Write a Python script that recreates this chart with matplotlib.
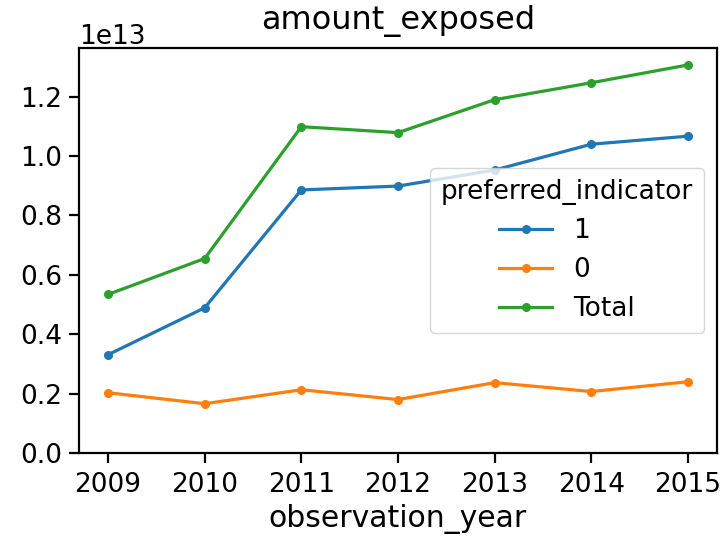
import matplotlib
matplotlib.use("Agg")
import matplotlib.pyplot as plt

years = [2009, 2010, 2011, 2012, 2013, 2014, 2015]
pref_1 = [0.331e13, 0.489e13, 0.886e13, 0.899e13, 0.953e13, 1.040e13, 1.067e13]
pref_0 = [0.203e13, 0.166e13, 0.213e13, 0.180e13, 0.237e13, 0.207e13, 0.240e13]
total = [0.534e13, 0.655e13, 1.099e13, 1.079e13, 1.190e13, 1.247e13, 1.307e13]
series_labels = ["1", "0", "Total"]

fs = 19
plt.rcParams.update({
    "font.size": fs,
    "axes.linewidth": 1.6,
    "xtick.major.width": 1.6,
    "ytick.major.width": 1.6,
    "xtick.major.size": 7,
    "ytick.major.size": 7,
    "xtick.major.pad": 7,
    "ytick.major.pad": 5,
})

fig = plt.figure(figsize=(7.24, 5.36), dpi=100)
ax = fig.add_axes([79/724, 1-453/536, (717-79)/724, (453-48)/536])

colors = ["#1f77b4", "#ff7f0e", "#2ca02c"]
for vals, lab, c in zip([pref_1, pref_0, total], series_labels, colors):
    ax.plot(years, vals, marker="o", markersize=5.5, linewidth=2.3, color=c, label=lab)

ax.set_ylim(bottom=0)
ax.set_xticks(years)
ax.set_xticklabels([str(y) for y in years])
ax.tick_params(labelsize=fs)
ax.yaxis.get_offset_text().set_fontsize(fs)
ax.set_title("amount_exposed", fontsize=23, pad=14)
ax.set_xlabel("observation_year", fontsize=21.5, labelpad=4)
leg = ax.legend(title="preferred_indicator", loc="center right", fontsize=fs, title_fontsize=fs)

fig.savefig("out.png", dpi=100)
